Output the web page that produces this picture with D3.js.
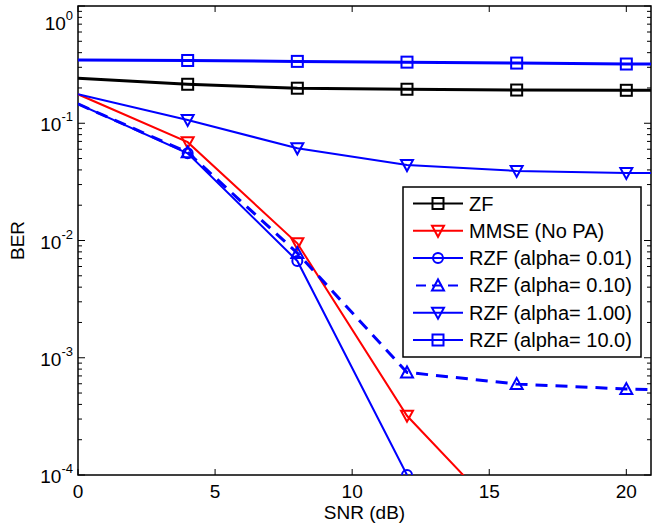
<!DOCTYPE html>
<html>
<head>
<meta charset="utf-8">
<script src="https://cdn.jsdelivr.net/npm/d3@7"></script>
<style>
  body { margin: 0; background: #fff; }
  text { font-family: "Liberation Sans", Arial, sans-serif; }
</style>
</head>
<body>
<div id="chart"></div>
<script>
// SNR points (dB)
const snr = [0, 4, 8, 12, 16, 20, 24];

// BER values
const zf       = [0.2415, 0.215, 0.199, 0.195, 0.192, 0.191, 0.190];
const mmse     = [0.1766, 0.069, 0.00946, 3.2e-4, 3.3e-5, 3e-6, 3e-7];
const rzf001   = [0.146, 0.0554, 0.00669, 1.0e-4, 1e-6, 1e-8, 1e-9];
const rzf010   = [0.146, 0.0565, 0.00782, 7.5e-4, 5.97e-4, 5.41e-4, 5.2e-4];
const rzf100   = [0.1766, 0.1066, 0.0611, 0.044, 0.0392, 0.0377, 0.0372];
const rzf1000  = [0.346, 0.343, 0.337, 0.332, 0.326, 0.320, 0.318];

const seriesNames = ["ZF", "MMSE (No PA)", "RZF (alpha= 0.01)", "RZF (alpha= 0.10)", "RZF (alpha= 1.00)", "RZF (alpha= 10.0)"];
const xTicks = [0, 5, 10, 15, 20];
const yDecades = [-4, -3, -2, -1, 0];

const series = [
  { name: seriesNames[0], values: zf,      color: "#000000", width: 3,   dash: null,   marker: "square" },
  { name: seriesNames[1], values: mmse,    color: "#ff0000", width: 2,   dash: null,   marker: "down" },
  { name: seriesNames[2], values: rzf001,  color: "#0000ff", width: 2,   dash: null,   marker: "circle" },
  { name: seriesNames[3], values: rzf010,  color: "#0000ff", width: 3,   dash: "12,8", marker: "up" },
  { name: seriesNames[4], values: rzf100,  color: "#0000ff", width: 2,   dash: null,   marker: "down" },
  { name: seriesNames[5], values: rzf1000, color: "#0000ff", width: 3,   dash: null,   marker: "square" }
];

const W = 652, H = 529;
const L = 78, R = 651, T = 6, B = 475;

const svg = d3.select("#chart").append("svg")
  .attr("width", W)
  .attr("height", H);

const x = d3.scaleLinear().domain([0, 20.9]).range([L, R]);
const y = d3.scaleLog().domain([1e-4, 1]).range([B, T]);

svg.append("clipPath").attr("id", "clip")
  .append("rect")
  .attr("x", L).attr("y", T - 1)
  .attr("width", R - L).attr("height", B - T + 1);

// ticks (inside, all four sides)
const tk = svg.append("g").attr("stroke", "#000").attr("stroke-width", 1);
xTicks.forEach(v => {
  tk.append("line").attr("x1", x(v)).attr("x2", x(v)).attr("y1", B).attr("y2", B - 6);
  tk.append("line").attr("x1", x(v)).attr("x2", x(v)).attr("y1", T).attr("y2", T + 6);
});
yDecades.forEach(e => {
  const base = Math.pow(10, e);
  tk.append("line").attr("x1", L).attr("x2", L + 7).attr("y1", y(base)).attr("y2", y(base));
  tk.append("line").attr("x1", R).attr("x2", R - 7).attr("y1", y(base)).attr("y2", y(base));
  if (e < 0) {
    for (let m = 2; m <= 9; m++) {
      const yy = y(base * m);
      tk.append("line").attr("x1", L).attr("x2", L + 4).attr("y1", yy).attr("y2", yy);
      tk.append("line").attr("x1", R).attr("x2", R - 4).attr("y1", yy).attr("y2", yy);
    }
  }
});

// frame
svg.append("rect")
  .attr("x", L).attr("y", T)
  .attr("width", R - L).attr("height", B - T)
  .attr("fill", "none").attr("stroke", "#000").attr("stroke-width", 1.5);

// tick labels
svg.append("g").selectAll("text")
  .data(xTicks)
  .join("text")
  .attr("x", d => x(d))
  .attr("y", 498)
  .attr("text-anchor", "middle")
  .attr("font-size", 19)
  .text(d => d);

// top label sits lower so that it stays inside the picture
const yl = svg.append("g").selectAll("text")
  .data(yDecades)
  .join("text")
  .attr("x", 73)
  .attr("y", d => d === 0 ? 30 : y(Math.pow(10, d)) + 8)
  .attr("text-anchor", "end")
  .attr("font-size", 19);
yl.append("tspan").text("10");
yl.append("tspan").attr("dy", -10).attr("font-size", 13).text(d => d);

// axis titles
svg.append("text")
  .attr("x", (L + R) / 2)
  .attr("y", 519)
  .attr("text-anchor", "middle")
  .attr("font-size", 19)
  .text("SNR (dB)");

svg.append("text")
  .attr("transform", `translate(24, ${(T + B) / 2}) rotate(-90)`)
  .attr("text-anchor", "middle")
  .attr("font-size", 19)
  .text("BER");

// markers
function drawMarker(g, type, cx, cy, color) {
  if (type === "square") {
    g.append("rect").attr("x", cx - 5.5).attr("y", cy - 5.5).attr("width", 11).attr("height", 11)
      .attr("fill", "none").attr("stroke", color).attr("stroke-width", 2);
  } else if (type === "circle") {
    g.append("circle").attr("cx", cx).attr("cy", cy).attr("r", 5)
      .attr("fill", "none").attr("stroke", color).attr("stroke-width", 2);
  } else if (type === "down") {
    g.append("path").attr("d", `M${cx - 6},${cy - 5}L${cx + 6},${cy - 5}L${cx},${cy + 6}Z`)
      .attr("fill", "none").attr("stroke", color).attr("stroke-width", 2);
  } else if (type === "up") {
    g.append("path").attr("d", `M${cx - 6},${cy + 5}L${cx + 6},${cy + 5}L${cx},${cy - 6}Z`)
      .attr("fill", "none").attr("stroke", color).attr("stroke-width", 2);
  }
}

const plot = svg.append("g").attr("clip-path", "url(#clip)");
const line = d3.line().x(d => x(d[0])).y(d => y(d[1]));

series.forEach(s => {
  const pts = snr.map((v, i) => [v, s.values[i]]);
  plot.append("path")
    .attr("d", line(pts))
    .attr("fill", "none")
    .attr("stroke", s.color)
    .attr("stroke-width", s.width)
    .attr("stroke-dasharray", s.dash);
  const mg = plot.append("g");
  pts.forEach((p, i) => {
    if (i > 0) drawMarker(mg, s.marker, x(p[0]), y(p[1]), s.color);
  });
});

// legend
const lg = svg.append("g");
lg.append("rect")
  .attr("x", 403).attr("y", 187)
  .attr("width", 238).attr("height", 170)
  .attr("fill", "#fff").attr("stroke", "#000").attr("stroke-width", 1.5);

series.forEach((s, i) => {
  const yy = 203.5 + i * 27.3;
  lg.append("line")
    .attr("x1", 413).attr("x2", 463).attr("y1", yy).attr("y2", yy)
    .attr("stroke", s.color).attr("stroke-width", 2)
    .attr("stroke-dasharray", s.dash ? "10,6" : null)
    .attr("stroke-dashoffset", s.dash ? -3 : null);
  drawMarker(lg, s.marker, 438, yy, s.color);
  lg.append("text")
    .attr("x", 469).attr("y", yy + 7)
    .attr("font-size", 20)
    .text(s.name);
});
</script>
</body>
</html>
